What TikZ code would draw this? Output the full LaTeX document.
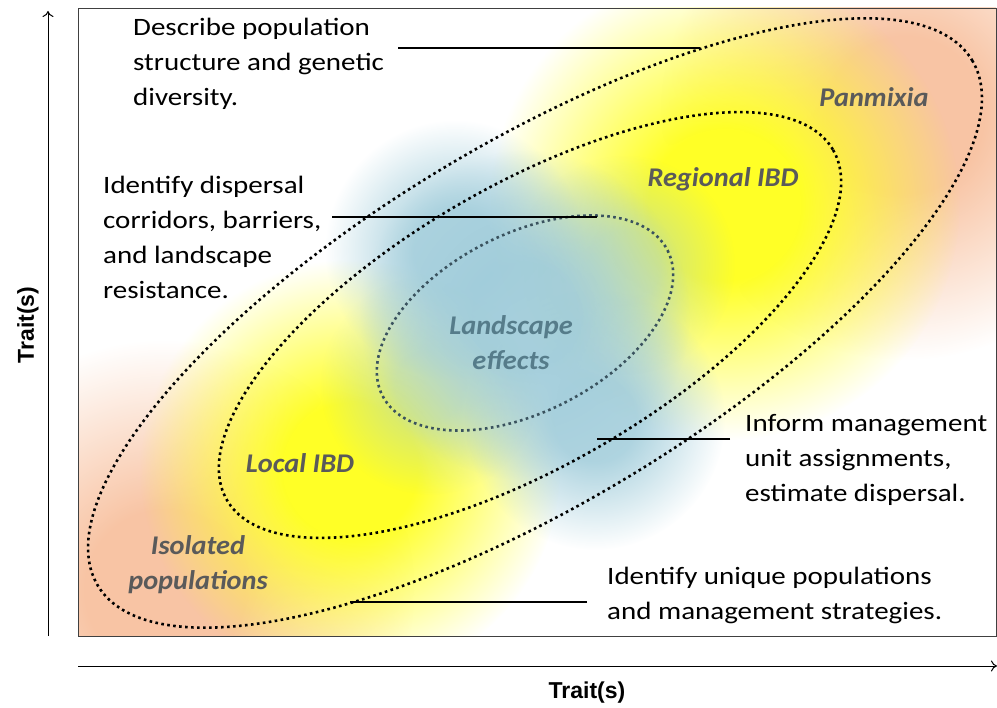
\documentclass[tikz,border=0pt]{standalone}
\usepackage{fontspec}
\setmainfont{Carlito}
\newfontfamily\bodyfont[FakeStretch=1.16]{Carlito}
\newfontfamily\zonefont[FakeStretch=1.05]{Carlito}
\newfontfamily\axisfont{Liberation Sans}
\usetikzlibrary{arrows.meta,fadings}

\definecolor{peach}{RGB}{248,196,164}
\definecolor{sun}{RGB}{255,255,38}
\definecolor{sky}{RGB}{160,204,218}
\definecolor{zonegray}{RGB}{90,90,90}
\definecolor{zoneblue}{RGB}{86,124,138}
\definecolor{ringblue}{RGB}{58,82,94}

% soft round patch: opaque core, fading out to the rim
\pgfdeclareradialshading{blobshade}{\pgfpointorigin}{color(0bp)=(white); color(8bp)=(white); color(25bp)=(black); color(50bp)=(black)}
\pgfdeclarefading{blob}{\pgfuseshading{blobshade}}

\tikzset{
  haze/.style={fill=#1, draw=none, path fading=blob},
  ring/.style={line width=2.6pt, dash pattern=on 2.6pt off 3.4pt},
  leader/.style={line width=1.6pt},
  note/.style={font=\bodyfont\fontsize{25}{35}\selectfont, align=left, inner sep=0pt},
  zone/.style={font=\zonefont\bfseries\itshape\fontsize{27}{35}\selectfont, align=center, text=zonegray, inner sep=0pt},
  axislabel/.style={font=\axisfont\bfseries\fontsize{23}{28}\selectfont, inner sep=0pt},
}

\begin{document}
\begin{tikzpicture}[x=1pt,y=-1pt]
 \useasboundingbox (0,0) rectangle (997,708);
 \coordinate (frameNW) at (78,8);
 \coordinate (frameSE) at (996,636);

 % colour fields
 \begin{scope}
  \clip (frameNW) rectangle (frameSE);
  \fill[haze=peach] (165,590) circle (250);
  \fill[haze=peach] (905,115) circle (245);
  \fill[haze=sun] (350,470) circle (210);
  \fill[haze=sun] (725,205) circle (235);
  \fill[haze=sky, fill opacity=0.85] (455,250) circle (130);
  \fill[haze=sky, fill opacity=0.9] (525,315) circle (165);
  \fill[haze=sky, fill opacity=0.85] (595,420) circle (130);
  \fill[haze=sky, fill opacity=0.45] (430,385) circle (110);
  \fill[haze=sky, fill opacity=0.45] (625,265) circle (110);
 \end{scope}
 \draw[line width=0.9pt, black!75] (frameNW) rectangle (frameSE);

 % nested zones
 \coordinate (outerC) at (535,323);
 \coordinate (middleC) at (530,325);
 \coordinate (innerC) at (525,323);
 \draw[ring, rotate around={31:(outerC)}] (outerC) ellipse [x radius=510, y radius=180];
 \draw[ring, rotate around={30:(middleC)}] (middleC) ellipse [x radius=350, y radius=140];
 \draw[ring, ringblue, rotate around={27:(innerC)}] (innerC) ellipse [x radius=160, y radius=89];

 % zone labels
 \node[zone] (panmixia) at (874,97) {Panmixia};
 \node[zone] (regional) at (723,179) {Regional IBD};
 \node[zone, text=zoneblue] (landscape) at (511,343) {Landscape\\effects};
 \node[zone] (local) at (300,463) {Local IBD};
 \node[zone] (isolated) at (198,565) {Isolated\\populations};

 % notes and leaders
 \node[note, anchor=west] (describe) at (133,64) {Describe population\\structure and genetic\\diversity.};
 \node[note, anchor=west] (dispersal) at (103,237) {Identify dispersal\\corridors, barriers,\\and landscape\\resistance.};
 \node[note, anchor=west] (inform) at (745,460) {Inform management\\unit assignments,\\estimate dispersal.};
 \node[note, anchor=west] (unique) at (607,595) {Identify unique populations\\and management strategies.};

 \coordinate (describeA) at (398,48);
 \coordinate (describeB) at (700,48);
 \coordinate (dispersalA) at (332,217);
 \coordinate (dispersalB) at (597,217);
 \coordinate (informA) at (730,439);
 \coordinate (informB) at (597,439);
 \coordinate (uniqueA) at (587,602);
 \coordinate (uniqueB) at (350,602);
 \draw[leader] (describeA) -- (describeB);
 \draw[leader] (dispersalA) -- (dispersalB);
 \draw[leader] (informA) -- (informB);
 \draw[leader] (uniqueA) -- (uniqueB);

 % axes
 \coordinate (yfoot) at (48,636);
 \coordinate (ytip) at (48,11);
 \coordinate (xfoot) at (78,666);
 \coordinate (xtip) at (997,666);
 \draw[line width=1pt, -{To[length=6pt,width=11pt]}] (yfoot) -- (ytip);
 \draw[line width=1pt, -{To[length=6pt,width=11pt]}] (xfoot) -- (xtip);
 \node[axislabel, rotate=90] (ylabel) at (28,325) {Trait(s)};
 \node[axislabel] (xlabel) at (587,693) {Trait(s)};
\end{tikzpicture}
\end{document}
